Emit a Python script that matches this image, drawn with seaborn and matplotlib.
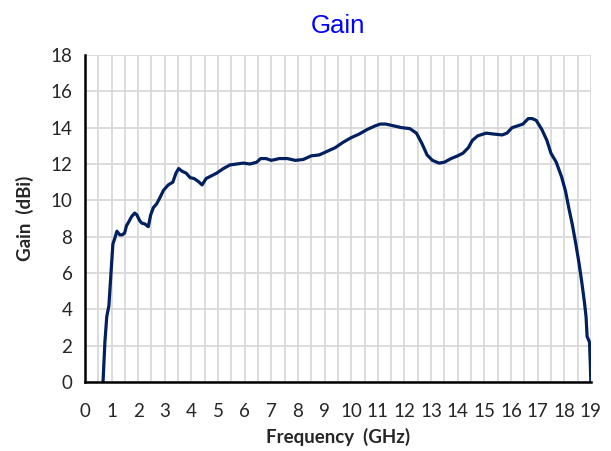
import matplotlib
matplotlib.use("Agg")
import matplotlib.pyplot as plt
import numpy as np
import pandas as pd
import seaborn as sns

# frequency (GHz) and gain (dBi)
freq = [0.68, 0.75, 0.82, 0.9, 0.97, 1.05, 1.12, 1.2, 1.31, 1.4, 1.49, 1.56, 1.64,
        1.75, 1.87, 1.95, 2.05, 2.13, 2.25, 2.38, 2.47, 2.57, 2.69, 2.8, 2.95,
        3.13, 3.3, 3.42, 3.52, 3.65, 3.8, 3.95, 4.1, 4.25, 4.4, 4.55, 4.75,
        4.95, 5.2, 5.45, 5.7, 5.95, 6.2, 6.45, 6.6, 6.8, 7.0, 7.3, 7.6, 7.9,
        8.2, 8.5, 8.8, 9.1, 9.4, 9.7, 10.0, 10.3, 10.6, 10.9, 11.1, 11.3,
        11.6, 11.9, 12.2, 12.45, 12.65, 12.85, 13.05, 13.3, 13.5, 13.75,
        14.0, 14.2, 14.4, 14.55, 14.75, 15.07, 15.35, 15.67, 15.85, 16.04,
        16.25, 16.45, 16.65, 16.8, 16.95, 17.16, 17.35, 17.5, 17.7, 17.9,
        18.05, 18.17, 18.3, 18.43, 18.55, 18.65, 18.75, 18.82, 18.86, 18.92,
        18.95, 18.98, 19.0]
gain = [0.0, 2.2, 3.6, 4.2, 5.8, 7.6, 7.9, 8.3, 8.1, 8.1, 8.2, 8.6, 8.8,
        9.1, 9.3, 9.2, 8.9, 8.75, 8.7, 8.55, 9.2, 9.6, 9.8, 10.1, 10.55,
        10.85, 11.0, 11.5, 11.75, 11.6, 11.5, 11.25, 11.2, 11.05, 10.85, 11.2, 11.35,
        11.5, 11.75, 11.95, 12.0, 12.05, 12.0, 12.1, 12.3, 12.3, 12.2, 12.3, 12.3, 12.2,
        12.25, 12.45, 12.5, 12.7, 12.9, 13.2, 13.45, 13.65, 13.9, 14.1, 14.2, 14.2,
        14.1, 14.0, 13.95, 13.7, 13.15, 12.5, 12.2, 12.05, 12.1, 12.3,
        12.45, 12.6, 12.9, 13.3, 13.55, 13.7, 13.65, 13.6, 13.7, 14.0,
        14.1, 14.2, 14.5, 14.5, 14.4, 13.9, 13.3, 12.6, 12.1, 11.3,
        10.5, 9.6, 8.7, 7.65, 6.6, 5.6, 4.5, 3.6, 2.5, 2.3,
        2.2, 1.0, 0.0]

df = pd.DataFrame({"Frequency": freq, "Gain": gain})

sns.set_style("white")
plt.rcParams["font.family"] = ["Lato", "DejaVu Sans"]

fig = plt.figure(figsize=(6.11, 4.51), dpi=100)
ax = fig.add_axes([0.139, 0.153, 0.828, 0.725])

sns.lineplot(data=df, x="Frequency", y="Gain", ax=ax, color="#002060",
             linewidth=2.3, sort=False, zorder=3)

ax.set_xlim(0, 19)
ax.set_ylim(0, 18)
ax.set_xticks(range(0, 20))
ax.set_yticks(range(0, 19, 2))
ax.set_xticks(np.arange(0.5, 19, 1.0), minor=True)
ax.grid(True, which="both", color="#d9d9d9", linewidth=1.3, zorder=0)
ax.tick_params(axis="both", which="both", length=0, labelsize=13.5)
ax.tick_params(axis="x", pad=15)
ax.tick_params(axis="y", pad=9)

for side in ["top", "right"]:
    ax.spines[side].set_visible(False)
for side in ["left", "bottom"]:
    ax.spines[side].set_color("black")
    ax.spines[side].set_linewidth(1.8)
    ax.spines[side].set_zorder(4)

ax.set_xlabel("Frequency  (GHz)", fontsize=13.5, fontweight="bold", labelpad=6)
ax.set_ylabel("Gain  (dBi)", fontsize=13.5, fontweight="bold", labelpad=12)
fig.text(0.553, 0.943, "Gain", ha="center", va="center", color="#0000ff",
         fontsize=18.5, family=["Liberation Sans", "DejaVu Sans"])

fig.savefig("out.png", dpi=100)
